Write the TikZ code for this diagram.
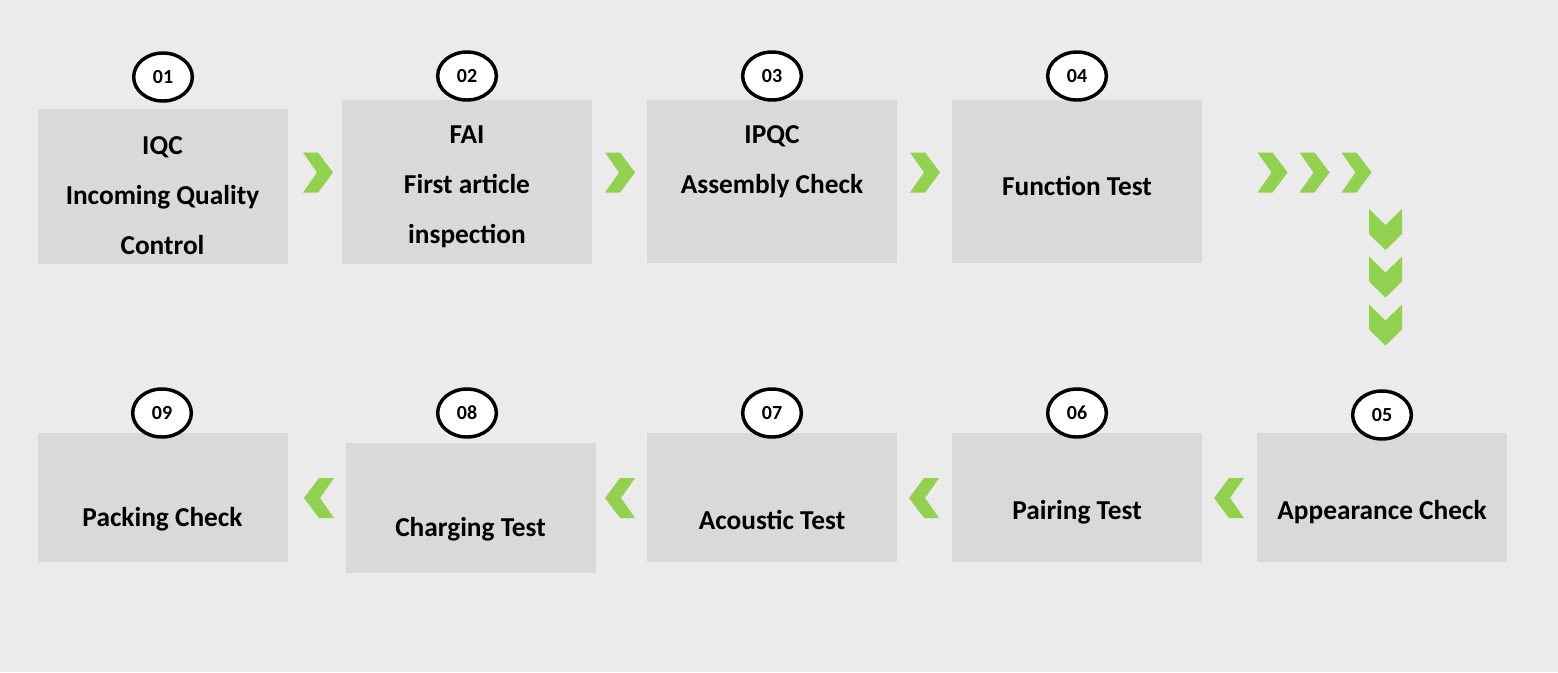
\documentclass[tikz,border=0pt]{standalone}
\usepackage{fontspec}
\setmainfont{Carlito}
\usetikzlibrary{shapes.geometric}

\definecolor{bggray}{HTML}{EBEBEB}
\definecolor{boxgray}{HTML}{D9D9D9}
\definecolor{arrowgreen}{HTML}{92D050}

\tikzset{every picture/.style={line width=0.75pt}}
\tikzset{
  stepbox/.style={rectangle, fill=boxgray, draw=none, inner sep=0pt, minimum width=187.5pt},
  steptext/.style={inner sep=0.75pt, align=center, font=\fontsize{20.5}{37.5}\selectfont\bfseries},
  stepnum/.style={ellipse, draw=black, fill=white, line width=2.6pt, inner sep=0pt,
    minimum width=44pt, minimum height=36pt, font=\fontsize{15}{17}\selectfont\bfseries},
  chevright/.pic={\fill[arrowgreen] (-15,-20) -- (0,-20) -- (15,0) -- (0,20) -- (-15,20) -- (-1,0) -- cycle;},
  chevleft/.pic={\fill[arrowgreen] (15,-20) -- (0,-20) -- (-15,0) -- (0,20) -- (15,20) -- (1,0) -- cycle;},
  chevdown/.pic={\fill[arrowgreen] (-16.5,20.5) -- (0,4.5) -- (16.5,20.5) -- (16.5,-4.5) -- (0,-20.5) -- (-16.5,-4.5) -- cycle;}
}

\begin{document}
\begin{tikzpicture}[x=0.75pt,y=0.75pt,yscale=-1,xscale=1]
\useasboundingbox[fill=bggray] (0,0) rectangle (1558,672);

% Step boxes, top row
\node [stepbox, minimum height=116.25pt] (b1) at (162.5,186.5) {};
\node [stepbox, minimum height=123pt] (b2) at (467,182) {};
\node [stepbox, minimum height=122.25pt] (b3) at (772,181.5) {};
\node [stepbox, minimum height=122.25pt] (b4) at (1077,181.5) {};
% Step boxes, bottom row
\node [stepbox, minimum height=96.75pt] (b5) at (1382,497.5) {};
\node [stepbox, minimum height=96.75pt] (b6) at (1077,497.5) {};
\node [stepbox, minimum height=96.75pt] (b7) at (772,497.5) {};
\node [stepbox, minimum height=97.5pt] (b8) at (470.5,508) {};
\node [stepbox, minimum height=96.75pt] (b9) at (162.5,497.5) {};

% Texts
\node [steptext] (t1) at (162.5,195.5) {IQC\\Incoming Quality\\Control};
\node [steptext] (t2) at (467,186.5) {FAI\\First article\\inspection};
\node [steptext] (t3) at (772,161.5) {IPQC\\Assembly Check};
\node [steptext] (t4) at (1077,186) {Function Test};
\node [steptext] (t5) at (1382,512) {Appearance Check};
\node [steptext] (t6) at (1077,512) {Pairing Test};
\node [steptext] (t7) at (772,519.5) {Acoustic Test};
\node [steptext] (t8) at (470.5,529.5) {Charging Test};
\node [steptext] (t9) at (162.5,519.5) {Packing Check};

% Numbers
\node [stepnum] (n1) at (163,77) {01};
\node [stepnum] (n2) at (467,76) {02};
\node [stepnum] (n3) at (772,76) {03};
\node [stepnum] (n4) at (1077,76) {04};
\node [stepnum] (n5) at (1382,415) {05};
\node [stepnum] (n6) at (1077,413) {06};
\node [stepnum] (n7) at (772,413) {07};
\node [stepnum] (n8) at (467,413) {08};
\node [stepnum] (n9) at (162,413) {09};

% Chevrons
\foreach \x in {318,620,925,1272.5,1314.5,1356.5}
  \pic at (\x,172.5) {chevright};
\foreach \y in {229.5,277,325}
  \pic at (1385.5,\y) {chevdown};
\foreach \x in {1229,924,620,319}
  \pic at (\x,498) {chevleft};

\end{tikzpicture}
\end{document}
